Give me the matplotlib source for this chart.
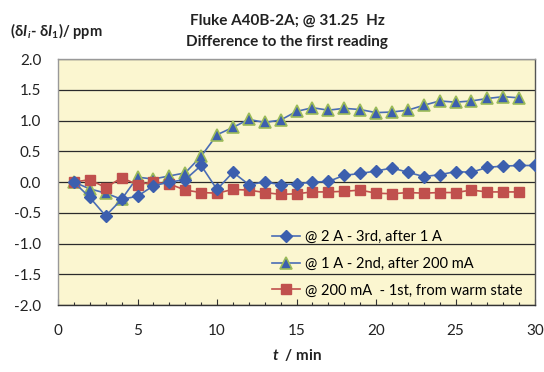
import matplotlib
matplotlib.use("Agg")
import matplotlib.pyplot as plt
import numpy as np

plt.rcParams['font.family'] = ['Lato', 'DejaVu Sans']
plt.rcParams['mathtext.fontset'] = 'custom'
plt.rcParams['mathtext.rm'] = 'Lato:bold'
plt.rcParams['mathtext.bf'] = 'Lato:bold'
plt.rcParams['mathtext.it'] = 'Lato:bold:italic'
plt.rcParams['mathtext.fallback'] = 'stixsans'

# readings (minutes) and difference to the first reading in ppm
t_2a = np.arange(1, 31)
d_2a = [0.0, -0.25, -0.55, -0.28, -0.23, -0.06, 0.0, 0.04, 0.27, -0.12,
        0.16, -0.04, 0.0, -0.04, -0.03, 0.0, 0.01, 0.11, 0.14, 0.18,
        0.23, 0.16, 0.09, 0.12, 0.17, 0.16, 0.24, 0.26, 0.27, 0.27]

t_1a = np.arange(1, 30)
d_1a = [0.0, -0.11, -0.18, -0.28, 0.08, 0.05, 0.10, 0.15, 0.42, 0.77,
        0.89, 1.02, 0.97, 1.01, 1.15, 1.21, 1.17, 1.20, 1.18, 1.13,
        1.14, 1.17, 1.25, 1.32, 1.30, 1.32, 1.36, 1.39, 1.37]

t_200 = np.arange(1, 30)
d_200 = [0.0, 0.04, -0.09, 0.07, -0.04, 0.0, -0.03, -0.13, -0.17, -0.18,
         -0.12, -0.13, -0.17, -0.20, -0.19, -0.16, -0.16, -0.15, -0.13, -0.18,
         -0.19, -0.17, -0.18, -0.17, -0.17, -0.13, -0.16, -0.16, -0.16]

lab_2a = "@ 2 A - 3rd, after 1 A"
lab_1a = "@ 1 A - 2nd, after 200 mA"
lab_200 = "@ 200 mA  - 1st, from warm state"

fig = plt.figure(figsize=(5.44, 3.72), dpi=100)
ax = fig.add_axes([0.1066, 0.180, 0.877, 0.661])
ax.set_facecolor("#FBF6D0")

ax.plot(t_2a, d_2a, color="#4A6DB5", lw=1.2, marker="D", ms=6.5,
        mfc="#3C5FAE", mec="#3C5FAE", label=lab_2a, zorder=4)
ax.plot(t_1a, d_1a, color="#4A6DB5", lw=1.2, marker="^", ms=8.5,
        mfc="#3C5FAE", mec="#9BBB59", mew=1.2, label=lab_1a, zorder=3)
ax.plot(t_200, d_200, color="#C0504D", lw=1.2, marker="s", ms=6.5,
        mfc="#C0504D", mec="#C0504D", label=lab_200, zorder=3)

ax.set_xlim(0, 30)
ax.set_ylim(-2.0, 2.0)
ax.set_xticks(np.arange(0, 31, 5))
ax.set_xticks(np.arange(0, 31, 1), minor=True)
ax.set_yticks(np.arange(-2.0, 2.01, 0.5))
ax.set_yticklabels(["%.1f" % v for v in np.arange(-2.0, 2.01, 0.5)])
ax.tick_params(axis="x", which="major", direction="in", length=4, width=0.8,
               labelsize=11, pad=14, colors="#333333", labelcolor="#222222")
ax.tick_params(axis="x", which="minor", direction="in", length=2.5, width=0.8,
               colors="#333333")
ax.tick_params(axis="y", length=0, labelsize=11, pad=12, labelcolor="#222222")
ax.grid(axis="y", color="#2a2a2a", lw=0.9)
ax.set_axisbelow(True)
ax.spines["left"].set_color("#999999")
ax.spines["bottom"].set_color("#333333")
ax.spines["right"].set_color("#555555")
ax.spines["top"].set_color("#999999")
for s in ax.spines.values():
    s.set_linewidth(1.0)

leg = ax.legend(loc="lower left", bbox_to_anchor=(0.43, -0.005), frameon=False,
                fontsize=10.5, labelspacing=0.88, handlelength=1.9,
                handletextpad=0.4, borderaxespad=0.2)

fig.text(0.528, 0.945, "Fluke A40B-2A; @ 31.25  Hz", ha="center", va="center",
         fontsize=11, fontweight="bold", color="#222222")
fig.text(0.528, 0.888, "Difference to the first reading", ha="center", va="center",
         fontsize=11, fontweight="bold", color="#222222")
fig.text(0.018, 0.918, r"$(\mathrm{\delta}I_{\,i}$- $\mathrm{\delta}I_{\mathrm{1}})$/ ppm",
         ha="left", va="center", fontsize=10.5, fontweight="bold", color="#222222")
fig.text(0.546, 0.045, r"$t$  / min", ha="center", va="center",
         fontsize=11, fontweight="bold", color="#222222")

fig.savefig("out.png", dpi=100)
